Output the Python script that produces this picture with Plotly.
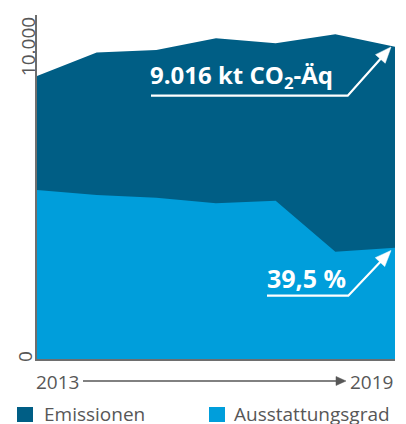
import math
import plotly.graph_objects as go

years = [2013, 2014, 2015, 2016, 2017, 2018, 2019]
emissionen_kt = [8170, 8848, 8920, 9258, 9114, 9374, 9016]
ausstattungsgrad_pct = [60.0, 58.2, 57.2, 55.3, 56.2, 38.1, 39.5]
y_tick_labels = ["0", "10.000"]
x_labels = ["2013", "2019"]
series_names = ["Emissionen", "Ausstattungsgrad"]

DARK = "#005e85"
LIGHT = "#009edb"
GREY = "#575757"
FONT = "Open Sans"
GS = 19  # grey text size

W, H = 406, 424
L, R, T, B = 37, 395, 15, 359  # plot area in pixels


def px(x):
    return (x - L) / (R - L)


def py(y):
    return (B - y) / (B - T)


def arrow_path(points, head_len, head_half):
    (x1, y1), (x2, y2) = points[-2], points[-1]
    dx, dy = x2 - x1, y2 - y1
    n = math.hypot(dx, dy)
    ux, uy = dx / n, dy / n
    bx, by = x2 - ux * head_len, y2 - uy * head_len
    pxv, pyv = -uy, ux
    pts = points[:-1] + [(bx + ux * 1.0, by + uy * 1.0)]
    line = "M " + " L ".join(f"{px(a):.5f},{py(b):.5f}" for a, b in pts)
    head = (f"M {px(x2):.5f},{py(y2):.5f} L {px(bx + pxv * head_half):.5f},{py(by + pyv * head_half):.5f} "
            f"L {px(bx - pxv * head_half):.5f},{py(by - pyv * head_half):.5f} Z")
    return line, head


fig = go.Figure()
fig.add_trace(go.Scatter(
    x=years, y=emissionen_kt, name=series_names[0], mode="lines",
    fill="tozeroy", fillcolor=DARK, line=dict(width=0, color=DARK),
    hoverinfo="x+y"))
fig.add_trace(go.Scatter(
    x=years, y=ausstattungsgrad_pct, name=series_names[1], mode="lines",
    fill="tozeroy", fillcolor=LIGHT, line=dict(width=0, color=LIGHT),
    yaxis="y2", hoverinfo="x+y"))

gfont = dict(family=FONT, size=GS, color=GREY)
ann = []
ann.append(dict(text=y_tick_labels[1], xref="paper", yref="paper", x=px(27.5), y=py(46.7),
                textangle=-90, showarrow=False, font=gfont,
                xanchor="center", yanchor="middle"))
ann.append(dict(text=y_tick_labels[0], xref="paper", yref="paper", x=px(25), y=py(357),
                textangle=-90, showarrow=False, font=gfont,
                xanchor="center", yanchor="middle"))
ann.append(dict(text=x_labels[0], xref="paper", yref="paper", x=px(34), y=py(381.5),
                showarrow=False, font=gfont, xanchor="left", yanchor="middle"))
ann.append(dict(text=x_labels[1], xref="paper", yref="paper", x=px(395), y=py(381.5),
                showarrow=False, font=gfont, xanchor="right", yanchor="middle"))
ann.append(dict(text="9.016 kt CO<sub>2</sub>-Äq", xref="paper", yref="paper",
                x=px(148), y=py(75.5), showarrow=False,
                font=dict(family=FONT, size=24, color="white", weight="bold"),
                xanchor="left", yanchor="middle"))
ann.append(dict(text="39,5 %", xref="paper", yref="paper",
                x=px(265), y=py(277.5), showarrow=False,
                font=dict(family=FONT, size=25, color="white", weight="bold"),
                xanchor="left", yanchor="middle"))
ann.append(dict(text=series_names[0], xref="paper", yref="paper", x=px(42), y=py(413.5),
                showarrow=False, font=gfont, xanchor="left", yanchor="middle"))
ann.append(dict(text=series_names[1], xref="paper", yref="paper", x=px(232), y=py(413.5),
                showarrow=False, font=gfont, xanchor="left", yanchor="middle"))

shapes = []
for pts in ([(151, 95.7), (347.7, 95.7), (391, 47)],
            [(267, 295.7), (348.3, 295.7), (391, 250.5)]):
    line, head = arrow_path(pts, 16, 6.5)
    shapes.append(dict(type="path", xref="paper", yref="paper", path=line,
                       line=dict(color="white", width=2.2)))
    shapes.append(dict(type="path", xref="paper", yref="paper", path=head,
                       fillcolor="white", line=dict(color="white", width=0.5)))
line, head = arrow_path([(83, 381), (346, 381)], 10, 4.5)
shapes.append(dict(type="path", xref="paper", yref="paper", path=line,
                   line=dict(color=GREY, width=1.3)))
shapes.append(dict(type="path", xref="paper", yref="paper", path=head,
                   fillcolor=GREY, line=dict(color=GREY, width=0.5)))
shapes.append(dict(type="rect", xref="paper", yref="paper", x0=px(17), y0=py(407), x1=px(33), y1=py(422),
                   fillcolor=DARK, line=dict(width=0)))
shapes.append(dict(type="rect", xref="paper", yref="paper", x0=px(209), y0=py(407), x1=px(225), y1=py(422),
                   fillcolor=LIGHT, line=dict(width=0)))

fig.update_layout(
    width=W, height=H,
    margin=dict(l=L, r=W - R, t=T, b=H - B, pad=0),
    paper_bgcolor="white", plot_bgcolor="white",
    showlegend=False,
    xaxis=dict(range=[years[0], years[-1]], showgrid=False, zeroline=False,
               showticklabels=False, ticks="", showline=True, linecolor="#6e6e6e",
               linewidth=1.6),
    yaxis=dict(range=[0, 9931], showgrid=False, zeroline=False, showticklabels=False,
               ticks="", showline=True, linecolor="#6e6e6e", linewidth=1.6),
    yaxis2=dict(range=[0, 122.07], overlaying="y", showgrid=False, zeroline=False,
                showticklabels=False, ticks="", showline=False, visible=False),
    annotations=ann, shapes=shapes,
)

fig.write_html("out.html", config={"displayModeBar": False},
               post_script="document.body.style.margin='0';document.body.style.overflow='hidden';")
